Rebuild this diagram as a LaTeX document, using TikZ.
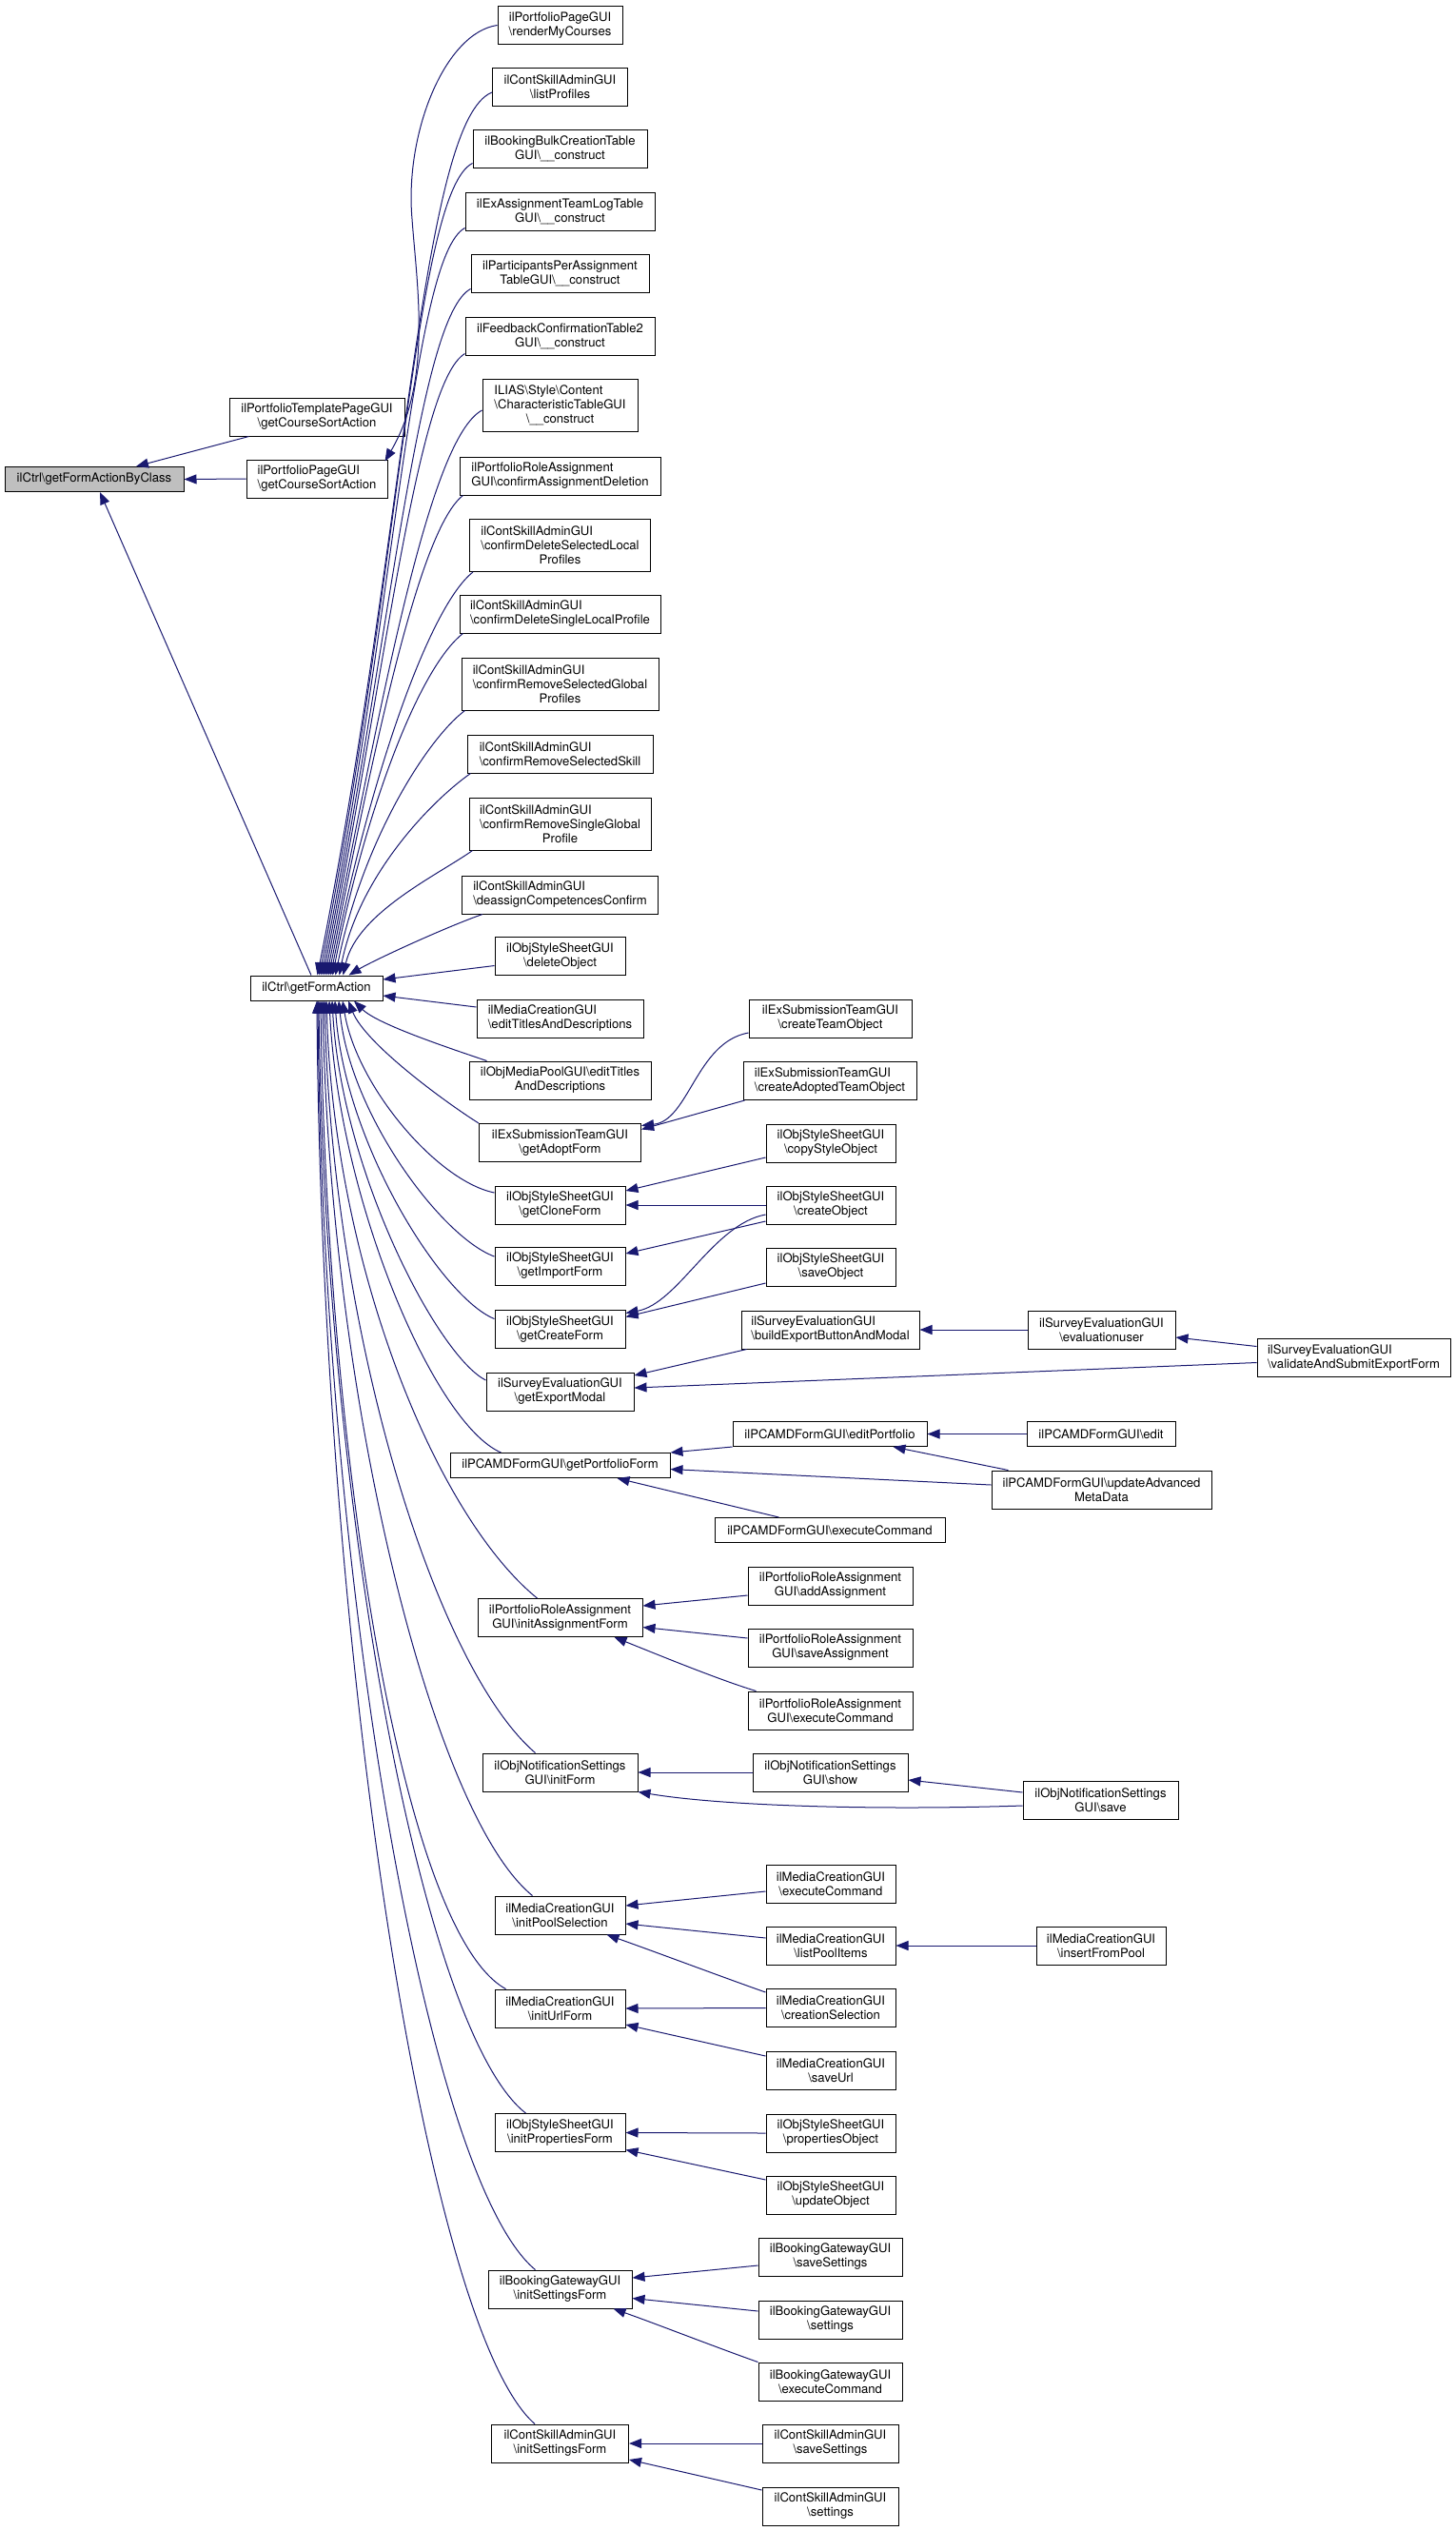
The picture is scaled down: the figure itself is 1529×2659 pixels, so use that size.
\documentclass[tikz,border=0pt]{standalone}
\usepackage{fontspec}
\setmainfont{TeX Gyre Heros}
\usetikzlibrary{arrows.meta,calc}
\newcommand\BS{\textbackslash}
\newsavebox\lnbox
\newcommand\LL[2]{\sbox\lnbox{#2}\makebox[\wd\lnbox][l]{#1}\\#2}
\definecolor{edgec}{HTML}{191970}
\definecolor{rootfill}{HTML}{BFBFBF}
\begin{document}
\begin{tikzpicture}[x=1pt,y=-1pt,
  box/.style={draw=black, line width=1pt, fill=white, inner sep=0pt, align=center,
    font=\fontsize{13.1}{15}\selectfont, minimum height=40pt},
  one/.style={minimum height=26pt},
  three/.style={minimum height=55pt},
  arr/.style={draw=edgec, line width=1pt, -{Triangle[length=13pt,width=10pt]}}
]
\useasboundingbox (0,0) rectangle (1529,2659);

% ---------- left nodes
\node[box,one,fill=rootfill,minimum width=188pt] (bc) at (99,503.5) {ilCtrl\BS getFormActionByClass};
\node[box,minimum width=184pt] (tpl) at (333,438) {ilPortfolioTemplatePageGUI\\\BS getCourseSortAction};
\node[box,minimum width=148pt] (pcs) at (333,503) {\LL{ilPortfolioPageGUI}{\BS getCourseSortAction}};
\node[box,one,minimum width=139pt] (gfa) at (332.5,1038) {ilCtrl\BS getFormAction};

% ---------- column 4
\node[box,minimum width=131pt] (rmc) at (588.5,26.5) {ilPortfolioPageGUI\\\BS renderMyCourses};
\node[box,minimum width=142pt] (lp) at (588.5,91) {ilContSkillAdminGUI\\\BS listProfiles};
\node[box,minimum width=183pt] (bbc) at (588.5,156) {ilBookingBulkCreationTable\\GUI\BS\_\_construct};
\node[box,minimum width=199pt] (eat) at (588.5,222) {ilExAssignmentTeamLogTable\\GUI\BS\_\_construct};
\node[box,minimum width=187pt] (ppa) at (588.5,287) {ilParticipantsPerAssignment\\TableGUI\BS\_\_construct};
\node[box,minimum width=199pt] (fct) at (588.5,353) {ilFeedbackConfirmationTable2\\GUI\BS\_\_construct};
\node[box,three,minimum width=163pt] (ilias) at (588.5,426) {\LL{ILIAS\BS Style\BS Content}{\BS CharacteristicTableGUI}\\\BS\_\_construct};
\node[box,minimum width=211pt] (cad) at (588.5,500) {\LL{ilPortfolioRoleAssignment}{GUI\BS confirmAssignmentDeletion}};
\node[box,three,minimum width=190pt] (cdsl) at (588.5,573) {\LL{ilContSkillAdminGUI}{\BS confirmDeleteSelectedLocal}\\Profiles};
\node[box,minimum width=211pt] (cdslp) at (588.5,645) {\LL{ilContSkillAdminGUI}{\BS confirmDeleteSingleLocalProfile}};
\node[box,three,minimum width=207pt] (crsg) at (588.5,718.5) {\LL{ilContSkillAdminGUI}{\BS confirmRemoveSelectedGlobal}\\Profiles};
\node[box,minimum width=195pt] (crss) at (588.5,792) {\LL{ilContSkillAdminGUI}{\BS confirmRemoveSelectedSkill}};
\node[box,three,minimum width=191pt] (crsgp) at (588.5,865.5) {\LL{ilContSkillAdminGUI}{\BS confirmRemoveSingleGlobal}\\Profile};
\node[box,minimum width=206pt] (dcc) at (588.5,940) {\LL{ilContSkillAdminGUI}{\BS deassignCompetencesConfirm}};
\node[box,minimum width=137pt] (ossdel) at (588.5,1004.5) {ilObjStyleSheetGUI\\\BS deleteObject};
\node[box,minimum width=175pt] (mcetd) at (588.5,1070) {\LL{ilMediaCreationGUI}{\BS editTitlesAndDescriptions}};
\node[box,minimum width=191pt] (ompetd) at (588.5,1135) {ilObjMediaPoolGUI\BS editTitles\\AndDescriptions};
\node[box,minimum width=170pt] (gaf) at (588.5,1200.5) {ilExSubmissionTeamGUI\\\BS getAdoptForm};
\node[box,minimum width=137pt] (gcf) at (588.5,1266) {ilObjStyleSheetGUI\\\BS getCloneForm};
\node[box,minimum width=137pt] (gif) at (588.5,1330) {ilObjStyleSheetGUI\\\BS getImportForm};
\node[box,minimum width=137pt] (gcr) at (588.5,1396.5) {ilObjStyleSheetGUI\\\BS getCreateForm};
\node[box,minimum width=155pt] (gem) at (588.5,1462) {ilSurveyEvaluationGUI\\\BS getExportModal};
\node[box,one,minimum width=231pt] (gpf) at (588.5,1539.5) {ilPCAMDFormGUI\BS getPortfolioForm};
\node[box,minimum width=173pt] (iaf) at (588.5,1699.5) {ilPortfolioRoleAssignment\\GUI\BS initAssignmentForm};
\node[box,minimum width=163pt] (inf) at (588.5,1862) {ilObjNotificationSettings\\GUI\BS initForm};
\node[box,minimum width=137pt] (ips) at (588.5,2012) {ilMediaCreationGUI\\\BS initPoolSelection};
\node[box,minimum width=137pt] (iuf) at (588.5,2110) {ilMediaCreationGUI\\\BS initUrlForm};
\node[box,minimum width=137pt] (ipf) at (588.5,2240.5) {ilObjStyleSheetGUI\\\BS initPropertiesForm};
\node[box,minimum width=151pt] (bis) at (588.5,2405) {ilBookingGatewayGUI\\\BS initSettingsForm};
\node[box,minimum width=144pt] (cis) at (588.5,2567) {ilContSkillAdminGUI\\\BS initSettingsForm};

% ---------- column 5
\node[box,minimum width=171pt] (cto) at (872.5,1070) {ilExSubmissionTeamGUI\\\BS createTeamObject};
\node[box,minimum width=182pt] (cato) at (872,1135.5) {\LL{ilExSubmissionTeamGUI}{\BS createAdoptedTeamObject}};
\node[box,minimum width=136pt] (cso) at (873,1201) {ilObjStyleSheetGUI\\\BS copyStyleObject};
\node[box,minimum width=136pt] (co) at (873,1266) {ilObjStyleSheetGUI\\\BS createObject};
\node[box,minimum width=136pt] (so) at (873,1331) {ilObjStyleSheetGUI\\\BS saveObject};
\node[box,minimum width=187pt] (bebm) at (872.5,1397) {\LL{ilSurveyEvaluationGUI}{\BS buildExportButtonAndModal}};
\node[box,one,minimum width=204pt] (ep) at (872,1506.5) {ilPCAMDFormGUI\BS editPortfolio};
\node[box,one,minimum width=242pt] (ecpc) at (872,1607.5) {ilPCAMDFormGUI\BS executeCommand};
\node[box,minimum width=173pt] (aa) at (872.5,1666) {ilPortfolioRoleAssignment\\GUI\BS addAssignment};
\node[box,minimum width=173pt] (sa) at (872.5,1731) {ilPortfolioRoleAssignment\\GUI\BS saveAssignment};
\node[box,minimum width=173pt] (ecpr) at (872.5,1797) {ilPortfolioRoleAssignment\\GUI\BS executeCommand};
\node[box,minimum width=163pt] (nshow) at (872.5,1862) {ilObjNotificationSettings\\GUI\BS show};
\node[box,minimum width=136pt] (mcec) at (873,1979) {ilMediaCreationGUI\\\BS executeCommand};
\node[box,minimum width=136pt] (lpi) at (873,2044) {ilMediaCreationGUI\\\BS listPoolItems};
\node[box,minimum width=136pt] (cs) at (873,2109.5) {ilMediaCreationGUI\\\BS creationSelection};
\node[box,minimum width=136pt] (su) at (873,2175) {ilMediaCreationGUI\\\BS saveUrl};
\node[box,minimum width=136pt] (po) at (873,2241) {ilObjStyleSheetGUI\\\BS propertiesObject};
\node[box,minimum width=136pt] (uo) at (873,2306) {ilObjStyleSheetGUI\\\BS updateObject};
\node[box,minimum width=151pt] (bss) at (872.5,2371) {ilBookingGatewayGUI\\\BS saveSettings};
\node[box,minimum width=151pt] (bst) at (872.5,2437) {ilBookingGatewayGUI\\\BS settings};
\node[box,minimum width=151pt] (bec) at (872.5,2502) {ilBookingGatewayGUI\\\BS executeCommand};
\node[box,minimum width=143pt] (css) at (872.5,2567) {ilContSkillAdminGUI\\\BS saveSettings};
\node[box,minimum width=143pt] (cst) at (872.5,2633) {ilContSkillAdminGUI\\\BS settings};

% ---------- column 6 / 7
\node[box,minimum width=155pt] (eu) at (1157.5,1397) {ilSurveyEvaluationGUI\\\BS evaluationuser};
\node[box,one,minimum width=156pt] (edit) at (1157,1506.5) {ilPCAMDFormGUI\BS edit};
\node[box,minimum width=231pt] (uam) at (1157.5,1565) {ilPCAMDFormGUI\BS updateAdvanced\\MetaData};
\node[box,minimum width=163pt] (nsave) at (1156.5,1891) {ilObjNotificationSettings\\GUI\BS save};
\node[box,minimum width=136pt] (ifp) at (1157,2044) {ilMediaCreationGUI\\\BS insertFromPool};
\node[box,minimum width=203pt] (vas) at (1422.5,1426.5) {\LL{ilSurveyEvaluationGUI}{\BS validateAndSubmitExportForm}};

% ---------- edges to getFormActionByClass
\draw[arr] ($(tpl.south west)+(21,0)$) -- ($(bc.north)+(44,0)$);
\draw[arr] (pcs.west) -- (bc.east);
\draw[arr] ($(gfa.north)+(-5.5,0)$) -- ($(bc.south)+(6,0)$);
\draw[arr] (rmc.west) .. controls +(-55,8) and +(-8,-90) .. (433,230) .. controls +(5,70) and +(50,-85) .. ($(pcs.north east)+(-3,2)$);

% ---------- upper callers of getFormAction
\draw[arr] ($(lp.west)+(0,6)$) .. controls +(-75,30) and +(93,-464) .. ($(gfa.north)+(1,0)$);
\draw[arr] ($(bbc.south west)+(0,-5)$) .. controls +(-60,30) and +(85,-427) .. ($(gfa.north)+(3,0)$);
\draw[arr] ($(eat.south west)+(0,-3)$) .. controls +(-55,30) and +(79,-393) .. ($(gfa.north)+(5,0)$);
\draw[arr] ($(ppa.south west)+(0,-4)$) .. controls +(-55,30) and +(72,-361) .. ($(gfa.north)+(7,0)$);
\draw[arr] ($(fct.south west)+(0,-2)$) .. controls +(-50,30) and +(65,-327) .. ($(gfa.north)+(9,0)$);
\draw[arr] ($(ilias.west)+(0,5)$) .. controls +(-55,30) and +(59,-297) .. ($(gfa.north)+(11,0)$);
\draw[arr] ($(cad.south west)+(4,0)$) .. controls +(-45,35) and +(50,-252) .. ($(gfa.north)+(13,0)$);
\draw[arr] ($(cdsl.south west)+(4,0)$) .. controls +(-45,35) and +(42,-212) .. ($(gfa.north)+(15,0)$);
\draw[arr] ($(cdslp.south west)+(4,0)$) .. controls +(-45,35) and +(36,-180) .. ($(gfa.north)+(17,0)$);
\draw[arr] ($(crsg.south west)+(4,0)$) .. controls +(-40,30) and +(28,-140) .. ($(gfa.north)+(20,0)$);
\draw[arr] ($(crss.south west)+(4,0)$) .. controls +(-40,28) and +(21,-106) .. ($(gfa.north)+(24,0)$);
\draw[arr] ($(crsgp.south west)+(4,0)$) .. controls +(-35,25) and +(15,-66) .. ($(gfa.north)+(28,0)$);
\draw[arr] ($(dcc.south west)+(22,0)$) .. controls +(-40,14) and +(25,-15) .. ($(gfa.north)+(34,0)$);
\draw[arr] ($(ossdel.west)+(0,10)$) -- ($(gfa.east)+(0,-9)$);
\draw[arr] ($(mcetd.west)+(0,-12)$) -- ($(gfa.east)+(0,8)$);
\draw[arr] ($(ompetd.north west)+(19,0)$) .. controls +(-35,-12) and +(25,25) .. ($(gfa.south)+(39.5,0)$);

% ---------- lower callers of getFormAction
\draw[arr] (gaf.north west) .. controls +(-35,-22) and +(18,45) .. ($(gfa.south)+(33.5,0)$);
\draw[arr] ($(gcf.west)+(0,-13)$) .. controls +(-60,-12) and +(15,90) .. ($(gfa.south)+(27.5,0)$);
\draw[arr] ($(gif.west)+(0,-10)$) .. controls +(-55,-20) and +(12,120) .. ($(gfa.south)+(23.5,0)$);
\draw[arr] ($(gcr.west)+(0,-11)$) .. controls +(-55,-22) and +(10,150) .. ($(gfa.south)+(19.5,0)$);
\draw[arr] ($(gem.west)+(0,-12)$) .. controls +(-50,-25) and +(10,180) .. ($(gfa.south)+(16.5,0)$);
\draw[arr] ($(gpf.north west)+(54,0)$) .. controls +(-70,-30) and +(10,210) .. ($(gfa.south)+(13.5,0)$);
\draw[arr] ($(iaf.north west)+(63,0)$) .. controls +(-105,-85) and +(8,280) .. ($(gfa.south)+(10.5,0)$);
\draw[arr] ($(inf.north west)+(56,0)$) .. controls +(-105,-90) and +(8,350) .. ($(gfa.south)+(8.5,0)$);
\draw[arr] ($(ips.north west)+(40,0)$) .. controls +(-105,-85) and +(8,420) .. ($(gfa.south)+(6.5,0)$);
\draw[arr] ($(iuf.north west)+(12,0)$) .. controls +(-110,-60) and +(6,470) .. ($(gfa.south)+(4.5,0)$);
\draw[arr] ($(ipf.north west)+(33,0)$) .. controls +(-110,-85) and +(6,520) .. ($(gfa.south)+(2.5,0)$);
\draw[arr] ($(bis.north west)+(50,0)$) .. controls +(-115,-95) and +(5,600) .. ($(gfa.south)+(1.5,0)$);
\draw[arr] ($(cis.north west)+(46,0)$) .. controls +(-115,-100) and +(5,670) .. ($(gfa.south)+(0.5,0)$);

% ---------- column 5/6/7 edges
\draw[arr] ($(cto.west)+(0,15)$) .. controls +(-55,10) and +(50,-5) .. ($(gaf.north east)+(0,2.5)$);
\draw[arr] ($(cato.south west)+(2,0)$) -- ($(gaf.north east)+(0,6.5)$);
\draw[arr] ($(cso.west)+(0,15)$) -- ($(gcf.east)+(0,-15)$);
\draw[arr] (co.west) -- (gcf.east);
\draw[arr] ($(co.west)+(0,17)$) -- ($(gif.east)+(0,-13)$);
\draw[arr] ($(co.west)+(0,10)$) .. controls +(-55,10) and +(55,-10) .. ($(gcr.east)+(0,-17)$);
\draw[arr] ($(so.west)+(0,17)$) -- ($(gcr.east)+(0,-13)$);
\draw[arr] ($(bebm.south west)+(6,0)$) -- ($(gem.east)+(0,-17)$);
\draw[arr] ($(vas.west)+(0,5)$) -- ($(gem.east)+(0,-4)$);
\draw[arr] (eu.west) -- (bebm.east);
\draw[arr] ($(vas.west)+(0,-12)$) -- ($(eu.east)+(0,8)$);
\draw[arr] (ep.south west) -- (gpf.north east);
\draw[arr] (edit.west) -- (ep.east);
\draw[arr] ($(uam.north west)+(18,0)$) -- ($(ep.south east)+(-36,0)$);
\draw[arr] ($(uam.west)+(0,-5)$) -- ($(gpf.east)+(0,4)$);
\draw[arr] ($(ecpc.north west)+(68,0)$) -- ($(gpf.south east)+(-56,0)$);

\draw[arr] ($(aa.west)+(0,10)$) -- ($(iaf.east)+(0,-12.5)$);
\draw[arr] ($(sa.west)+(0,-10)$) -- ($(iaf.east)+(0,10)$);
\draw[arr] ($(ecpr.north west)+(9,0)$) .. controls +(-40,-12) and +(40,16) .. ($(iaf.south east)+(-30,0)$);

\draw[arr] (nshow.west) -- (inf.east);
\draw[arr] ($(nsave.west)+(0,-8)$) -- ($(nshow.east)+(0,8)$);
\draw[arr] ($(nsave.west)+(0,6)$) .. controls +(-150,5) and +(90,15) .. (inf.south east);

\draw[arr] ($(mcec.west)+(0,8)$) -- ($(ips.east)+(0,-10)$);
\draw[arr] ($(lpi.west)+(0,-8)$) -- ($(ips.east)+(0,9)$);
\draw[arr] ($(cs.north west)+(0,4)$) .. controls +(-40,-14) and +(40,14) .. ($(ips.south east)+(-20,0)$);
\draw[arr] (ifp.west) -- (lpi.east);
\draw[arr] (cs.west) -- (iuf.east);
\draw[arr] ($(su.west)+(0,-15)$) -- ($(iuf.east)+(0,17)$);
\draw[arr] (po.west) -- (ipf.east);
\draw[arr] ($(uo.west)+(0,-16)$) -- ($(ipf.east)+(0,18)$);

\draw[arr] ($(bss.west)+(0,9)$) -- ($(bis.east)+(0,-12)$);
\draw[arr] ($(bst.west)+(0,-9)$) -- ($(bis.east)+(0,9.5)$);
\draw[arr] (bec.north west) .. controls +(-40,-14) and +(40,14) .. ($(bis.south east)+(-20,0)$);

\draw[arr] (css.west) -- (cis.east);
\draw[arr] ($(cst.west)+(0,-17)$) -- ($(cis.east)+(0,17)$);
\end{tikzpicture}
\end{document}
